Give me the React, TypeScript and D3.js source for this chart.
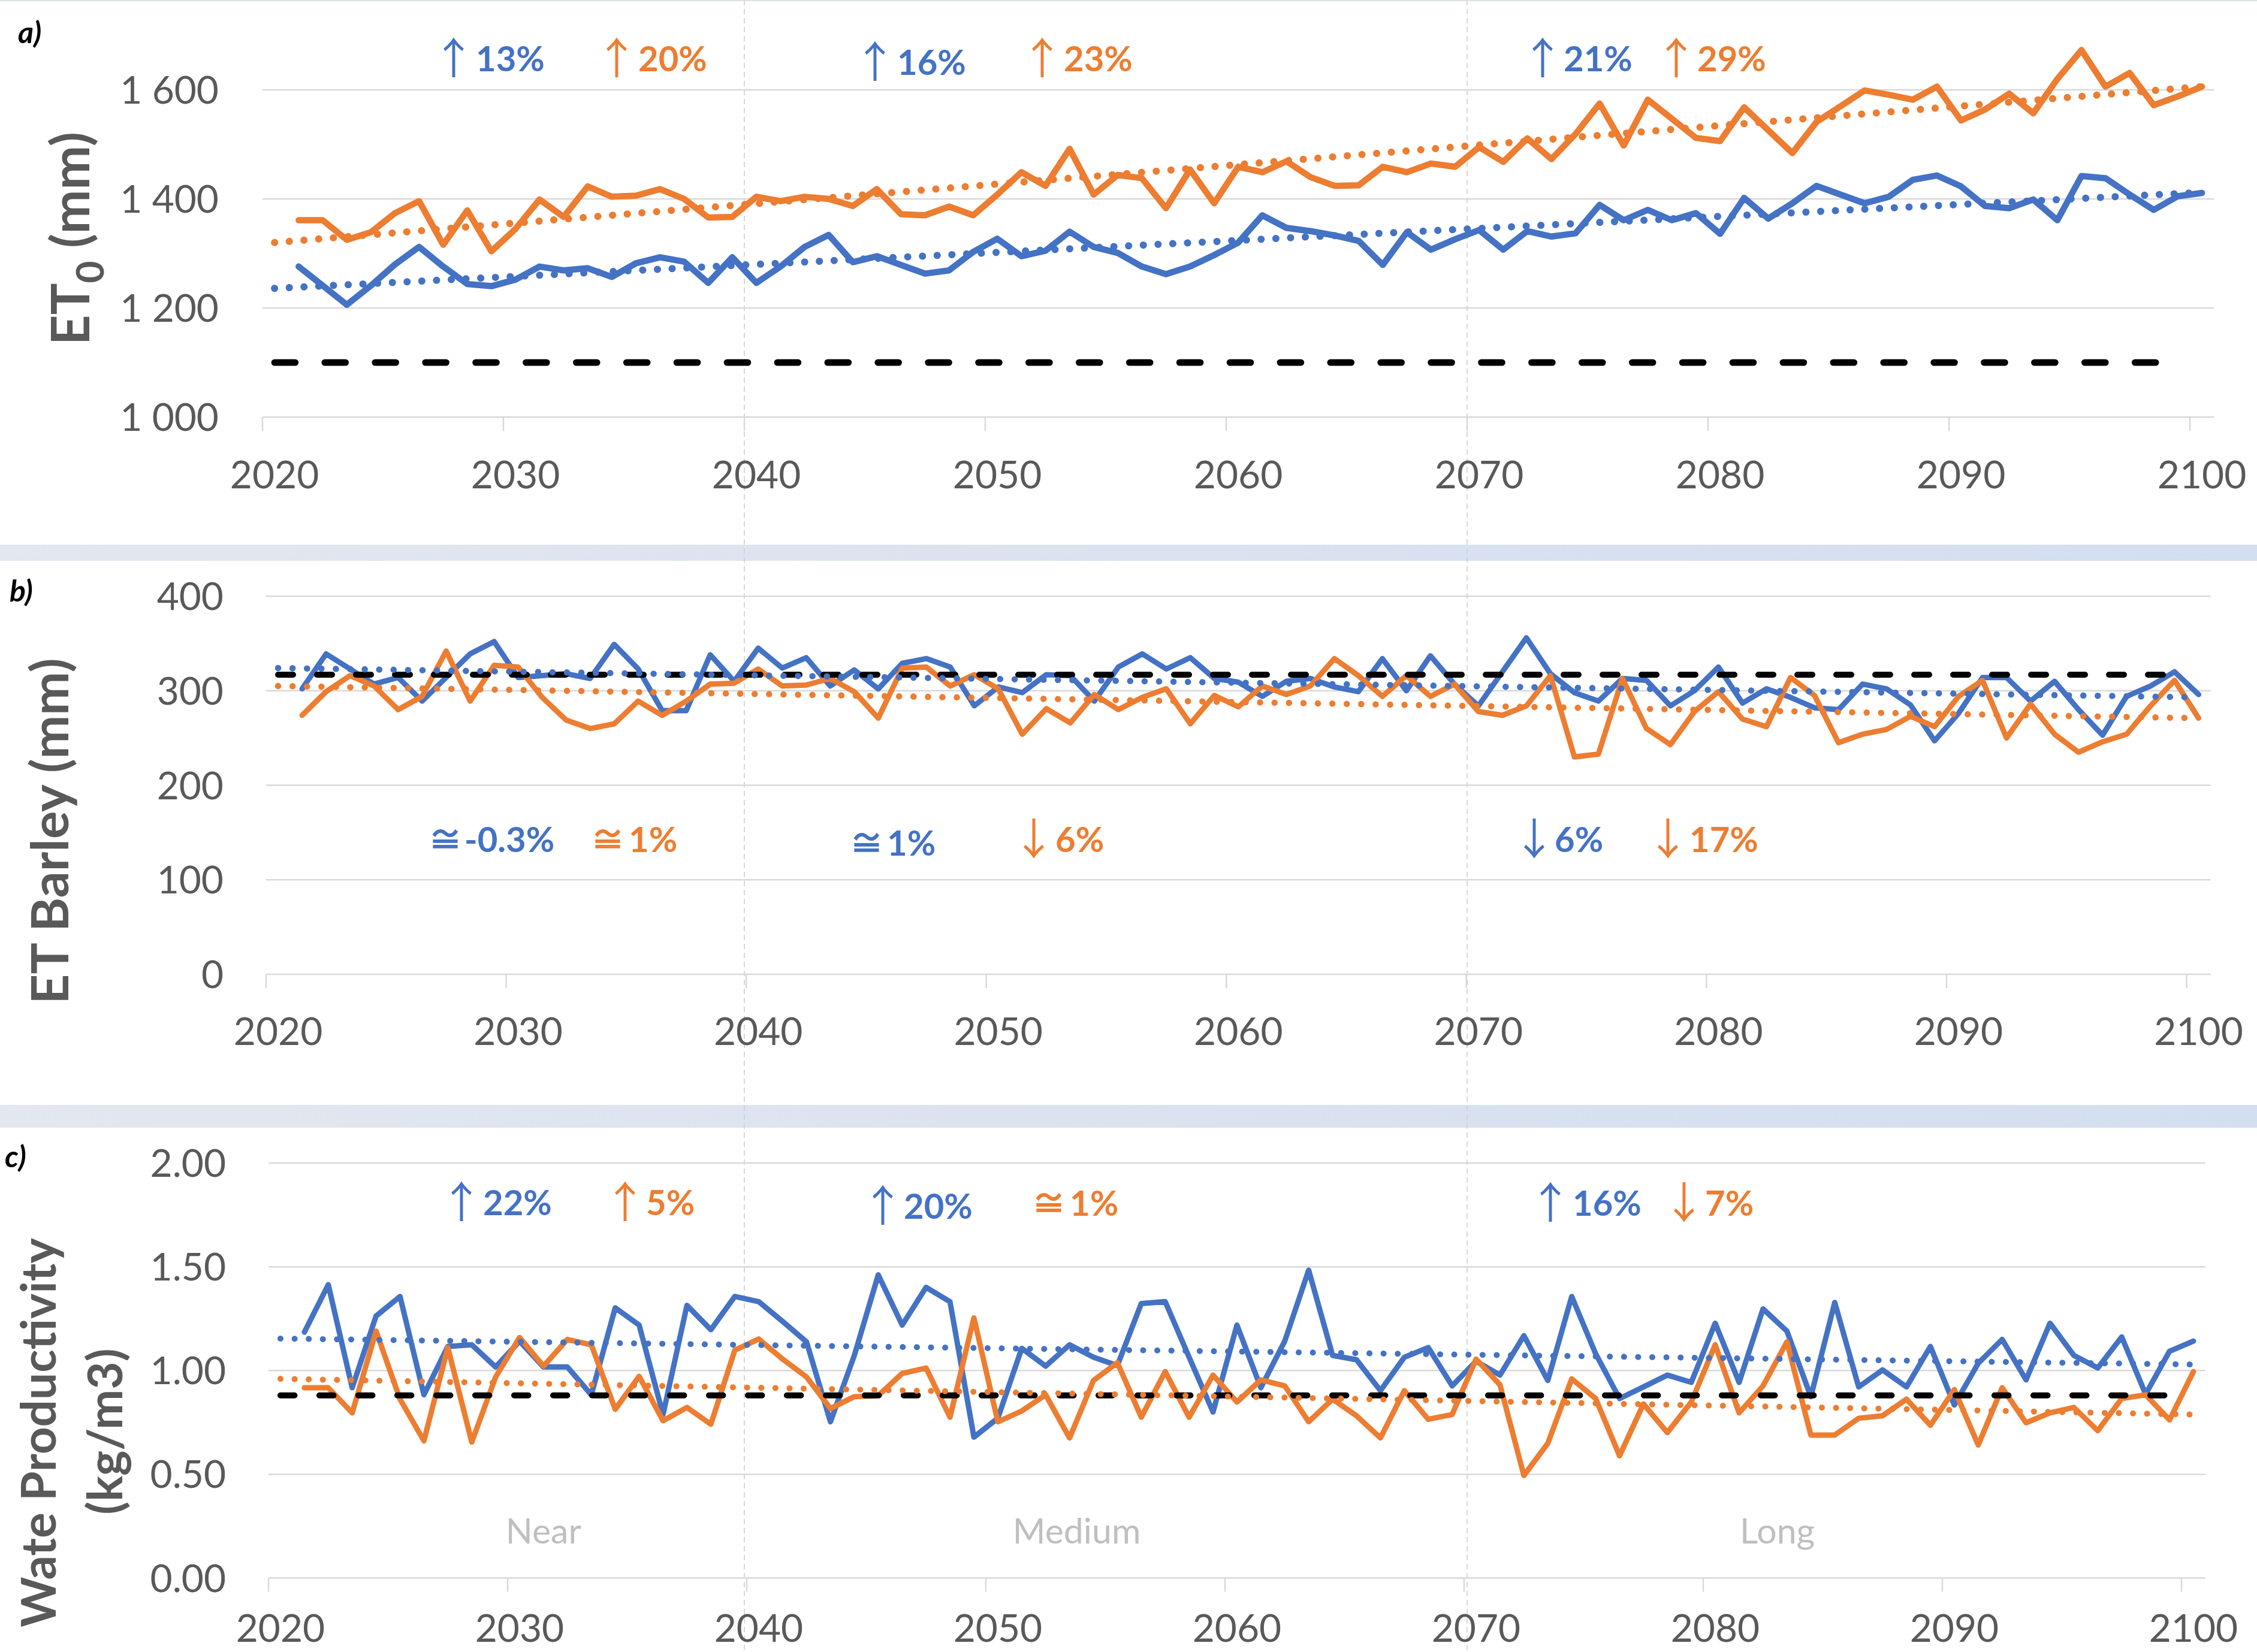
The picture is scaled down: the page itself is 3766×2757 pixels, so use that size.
import React from 'react';
import * as d3 from 'd3';

// years of the series (points sit in the middle of each year on the date axis)
const years = d3.range(2021, 2101);
const xTicks = d3.range(2020, 2101, 10);
const trendYears = [2020, 2100];
const baselineYears = [2020, 2099];
const periodBounds = [2040, 2070];
const periodNames = ['Near', 'Medium', 'Long'];
const periodCenters = [2031.5, 2053.8, 2083.1];

const et0Ticks = [1000, 1200, 1400, 1600];
const etTicks = [0, 100, 200, 300, 400];
const wpTicks = [0, 0.5, 1, 1.5, 2];

// a) ET0 (mm)
const et0Blue = [
  1276, 1241, 1206, 1241, 1280, 1312, 1276, 1244, 1240, 1252,
  1276, 1269, 1273, 1257, 1282, 1293, 1285, 1246, 1293, 1246,
  1276, 1312, 1334, 1284, 1295, 1279, 1263, 1269, 1303, 1327,
  1295, 1305, 1340, 1312, 1301, 1276, 1262, 1276, 1297, 1320,
  1370, 1347, 1341, 1333, 1323, 1279, 1339, 1307, 1326, 1343,
  1307, 1341, 1331, 1337, 1389, 1361, 1380, 1361, 1374, 1336,
  1402, 1364, 1392, 1424, 1408, 1392, 1404, 1435, 1443, 1423,
  1387, 1383, 1399, 1361, 1442, 1438, 1408, 1380, 1405, 1411,
];
const et0Orange = [
  1361, 1361, 1325, 1339, 1374, 1396, 1316, 1379, 1304, 1345,
  1399, 1367, 1423, 1404, 1406, 1418, 1400, 1366, 1367, 1404,
  1396, 1404, 1400, 1387, 1418, 1372, 1370, 1386, 1370, 1408,
  1449, 1424, 1492, 1408, 1444, 1438, 1383, 1454, 1392, 1459,
  1449, 1469, 1440, 1424, 1425, 1459, 1449, 1465, 1459, 1495,
  1468, 1511, 1473, 1519, 1575, 1498, 1582, 1547, 1512, 1506,
  1568, 1526, 1484, 1541, 1570, 1599, 1591, 1582, 1606, 1544,
  1564, 1593, 1557, 1620, 1673, 1606, 1631, 1572, 1588, 1606,
];
const et0BlueTrend = [1236, 1412];
const et0OrangeTrend = [1320, 1606];
const et0Baseline = 1100;

// b) ET Barley (mm)
const etBlue = [
  302, 339, 323, 307, 314, 289, 314, 339, 352, 314,
  316, 318, 313, 349, 323, 279, 279, 338, 310, 345,
  324, 335, 305, 322, 302, 329, 334, 325, 284, 304,
  298, 317, 316, 289, 325, 339, 323, 335, 313, 309,
  294, 310, 313, 304, 299, 334, 300, 337, 307, 284,
  320, 356, 318, 298, 289, 313, 311, 284, 300, 325,
  287, 302, 293, 282, 280, 307, 302, 285, 247, 276,
  314, 314, 289, 310, 280, 253, 294, 305, 320, 296,
];
const etOrange = [
  274, 299, 316, 305, 280, 294, 342, 289, 327, 325,
  293, 269, 260, 265, 289, 274, 289, 307, 308, 323,
  305, 306, 313, 299, 271, 324, 325, 305, 317, 302,
  254, 281, 266, 296, 280, 293, 302, 265, 295, 283,
  305, 296, 305, 334, 316, 294, 316, 294, 307, 278,
  274, 284, 316, 230, 233, 313, 260, 243, 278, 299,
  270, 262, 314, 295, 245, 254, 259, 273, 262, 294,
  311, 250, 286, 254, 235, 246, 254, 284, 311, 271,
];
const etBlueTrend = [324, 293];
const etOrangeTrend = [305, 271];
const etBaseline = 317;

// c) Water productivity (kg/m3)
const wpBlue = [
  1.185, 1.414, 0.917, 1.263, 1.357, 0.883, 1.116, 1.124, 1.017, 1.142,
  1.017, 1.017, 0.883, 1.302, 1.219, 0.788, 1.314, 1.197, 1.357, 1.332,
  1.237, 1.138, 0.753, 1.073, 1.461, 1.219, 1.401, 1.332, 0.679, 0.770,
  1.107, 1.021, 1.124, 1.064, 1.024, 1.323, 1.332, 1.064, 0.800, 1.219,
  0.917, 1.142, 1.484, 1.073, 1.052, 0.903, 1.064, 1.111, 0.926, 1.045,
  0.978, 1.168, 0.952, 1.357, 1.081, 0.865, 0.921, 0.978, 0.943, 1.228,
  0.943, 1.297, 1.190, 0.874, 1.328, 0.921, 1.003, 0.921, 1.116, 0.834,
  1.035, 1.150, 0.955, 1.228, 1.073, 1.012, 1.162, 0.886, 1.093, 1.142,
];
const wpOrange = [
  0.917, 0.917, 0.796, 1.190, 0.862, 0.661, 1.111, 0.655, 0.969, 1.159,
  1.021, 1.150, 1.124, 0.813, 0.972, 0.758, 0.822, 0.741, 1.098, 1.152,
  1.055, 0.969, 0.817, 0.874, 0.879, 0.986, 1.012, 0.775, 1.254, 0.753,
  0.805, 0.883, 0.675, 0.952, 1.038, 0.775, 0.995, 0.775, 0.978, 0.848,
  0.955, 0.926, 0.753, 0.862, 0.782, 0.675, 0.903, 0.765, 0.788, 1.055,
  0.931, 0.494, 0.649, 0.960, 0.865, 0.589, 0.839, 0.701, 0.848, 1.124,
  0.796, 0.926, 1.138, 0.689, 0.689, 0.770, 0.782, 0.862, 0.736, 0.908,
  0.641, 0.917, 0.748, 0.796, 0.822, 0.710, 0.865, 0.883, 0.762, 0.995,
];
const wpBlueTrend = [1.154, 1.029];
const wpOrangeTrend = [0.96, 0.788];
const wpBaseline = 0.88;

const BLUE = '#4472C4';
const ORANGE = '#ED7D31';
const GREY = '#595959';
const GRID = '#D9D9D9';
const FONT = 'Lato, "Open Sans", sans-serif';
const SYM = '"Noto Sans CJK JP", "DejaVu Sans", sans-serif';

const spaced = d3.formatLocale({ decimal: '.', thousands: ' ', grouping: [3], currency: ['', ''] }).format(',');

const panels = [
  {
    id: 'a', blue: et0Blue, orange: et0Orange, blueTrend: et0BlueTrend, orangeTrend: et0OrangeTrend,
    baseline: et0Baseline, ticks: et0Ticks, domain: [1000, 1600], fmt: (v) => spaced(v),
    x0: 438, x1: 3654, yb: 696, yt: 150, labelX: 365, xLabelY: 815, lw: 10.5, dot: 12, dotGap: 24.5,
    dashW: 11, dash: '34.6 49.3', tag: 'a)', tagX: 30, tagY: 72,
    notes: [
      { s: '↑', t: '13%', c: BLUE, sx: 757, tx: 794, by: 119 },
      { s: '↑', t: '20%', c: ORANGE, sx: 1029, tx: 1065, by: 119 },
      { s: '↑', t: '16%', c: BLUE, sx: 1460, tx: 1497, by: 125 },
      { s: '↑', t: '23%', c: ORANGE, sx: 1739, tx: 1775, by: 119 },
      { s: '↑', t: '21%', c: BLUE, sx: 2574, tx: 2609, by: 119 },
      { s: '↑', t: '29%', c: ORANGE, sx: 2797, tx: 2832, by: 119 },
    ],
  },
  {
    id: 'b', blue: etBlue, orange: etOrange, blueTrend: etBlueTrend, orangeTrend: etOrangeTrend,
    baseline: etBaseline, ticks: etTicks, domain: [0, 400], fmt: (v) => String(v),
    x0: 444, x1: 3648.5, yb: 1626, yt: 995, labelX: 373, xLabelY: 1744, lw: 9, dot: 10.5, dotGap: 24,
    dashW: 10, dash: '25 40', tag: 'b)', tagX: 16, tagY: 1004,
    notes: [
      { s: '≅', t: '-0.3%', c: BLUE, sx: 743, tx: 775, by: 1422 },
      { s: '≅', t: '1%', c: ORANGE, sx: 1014, tx: 1049, by: 1422 },
      { s: '≅', t: '1%', c: BLUE, sx: 1446, tx: 1480, by: 1428 },
      { s: '↓', t: '6%', c: ORANGE, sx: 1725, tx: 1761, by: 1422 },
      { s: '↓', t: '6%', c: BLUE, sx: 2560, tx: 2594, by: 1422 },
      { s: '↓', t: '17%', c: ORANGE, sx: 2783, tx: 2819, by: 1422 },
    ],
  },
  {
    id: 'c', blue: wpBlue, orange: wpOrange, blueTrend: wpBlueTrend, orangeTrend: wpOrangeTrend,
    baseline: wpBaseline, ticks: wpTicks, domain: [0, 2], fmt: d3.format('.2f'),
    x0: 448, x1: 3640, yb: 2633.5, yt: 1941, labelX: 377, xLabelY: 2740, lw: 9, dot: 10, dotGap: 23.5,
    dashW: 10, dash: '23.5 41.5', tag: 'c)', tagX: 8, tagY: 1948,
    notes: [
      { s: '↑', t: '22%', c: BLUE, sx: 770, tx: 806, by: 2028 },
      { s: '↑', t: '5%', c: ORANGE, sx: 1043, tx: 1078, by: 2028 },
      { s: '↑', t: '20%', c: BLUE, sx: 1473, tx: 1508, by: 2034 },
      { s: '≅', t: '1%', c: ORANGE, sx: 1750, tx: 1785, by: 2029 },
      { s: '↑', t: '16%', c: BLUE, sx: 2587, tx: 2624, by: 2029 },
      { s: '↓', t: '7%', c: ORANGE, sx: 2810, tx: 2845, by: 2029 },
    ],
  },
];

const Panel = ({ p }) => {
  const x = d3.scaleLinear().domain([2020, 2100]).range([p.x0, p.x1]);
  const y = d3.scaleLinear().domain(p.domain).range([p.yb, p.yt]);
  const mid = (yr) => x(yr + 0.5);
  const series = d3.line().x((d, i) => mid(years[i])).y((d) => y(d));
  const trend = (vals) => d3.line().x((d, i) => mid(trendYears[i])).y((d) => y(d))(vals);
  const base = d3.line().x((d) => mid(d)).y(() => y(p.baseline))(baselineYears);
  const right = x(2101);

  return (
    <g>
      {p.ticks.map((t) => (
        <line key={t} x1={p.x0} x2={right} y1={y(t)} y2={y(t)} stroke={GRID} strokeWidth={2.5} />
      ))}
      {xTicks.map((t) => (
        <line key={t} x1={x(t)} x2={x(t)} y1={p.yb} y2={p.yb + 23} stroke={GRID} strokeWidth={2.5} />
      ))}
      {p.ticks.map((t) => (
        <text key={t} x={p.labelX} y={y(t) + 23} textAnchor="end" fontFamily={FONT} fontSize={64} fill={GREY}>
          {p.fmt(t)}
        </text>
      ))}
      {xTicks.map((t) => (
        <text key={t} x={mid(t)} y={p.xLabelY} textAnchor="middle" fontFamily={FONT} fontSize={64} fill={GREY}>
          {t}
        </text>
      ))}
      <path d={series(p.blue)} fill="none" stroke={BLUE} strokeWidth={p.lw} strokeLinejoin="round" strokeLinecap="round" />
      <path d={series(p.orange)} fill="none" stroke={ORANGE} strokeWidth={p.lw} strokeLinejoin="round" strokeLinecap="round" />
      <path d={base} fill="none" stroke="#000" strokeWidth={p.dashW} strokeDasharray={p.dash} strokeLinecap="round" />
      <path d={trend(p.blueTrend)} fill="none" stroke={BLUE} strokeWidth={p.dot} strokeDasharray={`0.1 ${p.dotGap}`} strokeLinecap="round" />
      <path d={trend(p.orangeTrend)} fill="none" stroke={ORANGE} strokeWidth={p.dot} strokeDasharray={`0.1 ${p.dotGap}`} strokeLinecap="round" />
      {p.notes.map((n, i) => (
        <text key={i} y={n.by} fill={n.c}>
          {n.s === '≅' ? (
            <tspan x={n.sx} textAnchor="middle" fontFamily={SYM} fontWeight={700} fontSize={58}>{n.s}</tspan>
          ) : (
            <tspan x={n.sx} textAnchor="middle" fontFamily={SYM} fontWeight={400} fontSize={72} dy={4}>{n.s}</tspan>
          )}
          <tspan x={n.tx} dy={n.s === '≅' ? 0 : -4} fontFamily={FONT} fontWeight={700} fontSize={58}>{n.t}</tspan>
        </text>
      ))}
      <text x={p.tagX} y={p.tagY} fontFamily={FONT} fontWeight={700} fontStyle="italic" fontSize={50} fill="#000">
        {p.tag}
      </text>
      {p.id === 'c' &&
        periodNames.map((name, i) => (
          <text key={name} x={x(periodCenters[i])} y={2576} textAnchor="middle" fontFamily={FONT} fontSize={59} fill="#BFBFBF">
            {name}
          </text>
        ))}
    </g>
  );
};

export default function App() {
  const W = 3766;
  const H = 2757;
  const xa = d3.scaleLinear().domain([2020, 2100]).range([438, 3654]);
  return (
    <div style={{ position: 'absolute', left: 0, top: 0 }}>
      <svg width={W} height={H} viewBox={`0 0 ${W} ${H}`} style={{ display: 'block', background: '#fff' }}>
        <defs>
          <linearGradient id="band" x1="0" x2="1" y1="0" y2="0">
            <stop offset="0" stopColor="#E3E7EF" />
            <stop offset="1" stopColor="#D3DEF0" />
          </linearGradient>
        </defs>
        <rect x={0} y={0} width={W} height={H} fill="#fff" />
        <rect x={0} y={0} width={W} height={2} fill="#DDE2EA" />
        <rect x={0} y={909} width={W} height={27} fill="url(#band)" />
        <rect x={0} y={1844} width={W} height={38} fill="url(#band)" />
        {periodBounds.map((b) => (
          <line key={b} x1={xa(b)} x2={xa(b)} y1={0} y2={H} stroke="#CFCFCF" strokeWidth={1.6} strokeDasharray="9 6" />
        ))}
        {panels.map((p) => (
          <Panel key={p.id} p={p} />
        ))}
        <text transform="translate(149,398) rotate(-90)" textAnchor="middle" fontFamily={FONT} fontWeight={700} fontSize={88} fill={GREY}>
          ET<tspan dy={24} fontSize={64}>0</tspan>
          <tspan dy={-24}> (mm)</tspan>
        </text>
        <text transform="translate(114,1387) rotate(-90)" textAnchor="middle" fontFamily={FONT} fontWeight={700} fontSize={87} fill={GREY}>
          ET Barley (mm)
        </text>
        <text transform="translate(93,2391) rotate(-90)" textAnchor="middle" fontFamily={FONT} fontWeight={700} fontSize={80} fill={GREY}>
          Wate Productivity
        </text>
        <text transform="translate(204,2389) rotate(-90)" textAnchor="middle" fontFamily={FONT} fontWeight={700} fontSize={80} fill={GREY}>
          (kg/m3)
        </text>
      </svg>
    </div>
  );
}
